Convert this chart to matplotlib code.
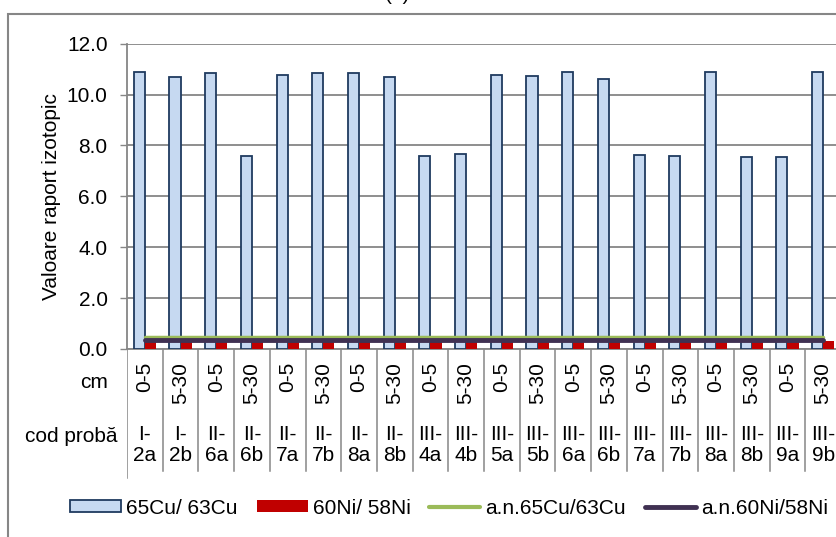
import matplotlib
matplotlib.use('Agg')
import matplotlib.pyplot as plt
from matplotlib.patches import Rectangle, Patch
from matplotlib.lines import Line2D

plt.rcParams['font.family'] = ['Liberation Sans', 'DejaVu Sans']

# date
adancime = ['0-5', '5-30'] * 10
cod_proba = ['I-\n2a', 'I-\n2b', 'II-\n6a', 'II-\n6b', 'II-\n7a', 'II-\n7b', 'II-\n8a', 'II-\n8b',
             'III-\n4a', 'III-\n4b', 'III-\n5a', 'III-\n5b', 'III-\n6a', 'III-\n6b', 'III-\n7a',
             'III-\n7b', 'III-\n8a', 'III-\n8b', 'III-\n9a', 'III-\n9b']
cu_65_63 = [10.88, 10.71, 10.86, 7.60, 10.78, 10.84, 10.84, 10.69, 7.57, 7.65,
            10.78, 10.72, 10.90, 10.62, 7.61, 7.58, 10.89, 7.53, 7.56, 10.89]
ni_60_58 = [0.33] * 20
an_cu = [0.47] * 20
an_ni = [0.37] * 20

W, H = 836, 537
GRID = '#868686'
FS = 15

fig = plt.figure(figsize=(W / 100, H / 100), dpi=100)

# chenarul graficului
fig.patches.append(Rectangle((8 / W, -0.05), 1.1, 1.05 - 14 / H, transform=fig.transFigure,
                             fill=False, edgecolor=GRID, lw=1.5))

ax_l, ax_r, ax_t, ax_b = 127, 841, 43.7, 349
ax = fig.add_axes([ax_l / W, 1 - ax_b / H, (ax_r - ax_l) / W, (ax_b - ax_t) / H])

x = list(range(len(adancime)))
w = 0.31
ax.bar([i - w / 2 for i in x], cu_65_63, width=w, color='#C6D9F1', edgecolor='#1F3A5F',
       lw=1.3, zorder=3)
ax.bar([i + w / 2 for i in x], ni_60_58, width=w, color='#C00000', lw=0, zorder=3)
ax.plot(x, an_cu, color='#9BBB59', lw=2.5, solid_capstyle='round', zorder=4)
ax.plot(x, an_ni, color='#403152', lw=3.5, solid_capstyle='round', zorder=5)

ax.set_xlim(-0.5, len(x) - 0.5)
ax.set_ylim(0, 12)
ax.set_yticks([0, 2, 4, 6, 8, 10, 12])
ax.set_yticklabels([f'{v:.1f}' for v in [0, 2, 4, 6, 8, 10, 12]], fontsize=FS)
ax.set_xticks([])
ax.tick_params(axis='y', length=5, width=1, color=GRID, pad=9)
ax.grid(True, axis='y', color=GRID, lw=1.3, zorder=0)
for s in ['top', 'right']:
    ax.spines[s].set_visible(False)
for s in ['left', 'bottom']:
    ax.spines[s].set_color(GRID)
    ax.spines[s].set_linewidth(1.3)
ax.set_ylabel('Valoare raport izotopic', fontsize=FS, labelpad=4)

# tabelul axei x (doua niveluri)
tab = fig.add_axes([ax_l / W, 1 - 480 / H, (ax_r - ax_l) / W, (480 - ax_b) / H])
tab.set_xlim(-0.5, len(x) - 0.5)
tab.set_ylim(480, ax_b)
tab.axis('off')
for i in range(len(x) + 1):
    tab.plot([i - 0.5, i - 0.5], [ax_b, 478 if i == 0 else 471], color=GRID, lw=1.1)
for i in x:
    tab.text(i, 362, adancime[i], rotation=90, ha='center', va='top', fontsize=FS)
    tab.text(i, 445, cod_proba[i], ha='center', va='center', fontsize=FS,
             multialignment='center', linespacing=1.1)

fig.text(108 / W, 1 - 383 / H, 'cm', ha='right', va='center', fontsize=FS)
fig.text(117 / W, 1 - 437 / H, 'cod probă', ha='right', va='center', fontsize=FS)

# titlu taiat sus
fig.text(398 / W, 1 - 0.5 / H, '(a)', ha='center', va='baseline', fontsize=FS)

handles = [Patch(facecolor='#C6D9F1', edgecolor='#1F3A5F', lw=1.3),
           Patch(facecolor='#C00000', lw=0),
           Line2D([], [], color='#9BBB59', lw=3, solid_capstyle='round'),
           Line2D([], [], color='#403152', lw=3.5, solid_capstyle='round')]
labels = ['65Cu/ 63Cu', '60Ni/ 58Ni', 'a.n.65Cu/63Cu', 'a.n.60Ni/58Ni']
fig.legend(handles, labels, loc='center left', bbox_to_anchor=(70 / W, 1 - 508 / H),
           ncol=4, frameon=False, fontsize=FS, borderpad=0, borderaxespad=0,
           handlelength=2.45, handleheight=0.55, handletextpad=0.25, columnspacing=0.9)

fig.savefig('out.png', dpi=100)
